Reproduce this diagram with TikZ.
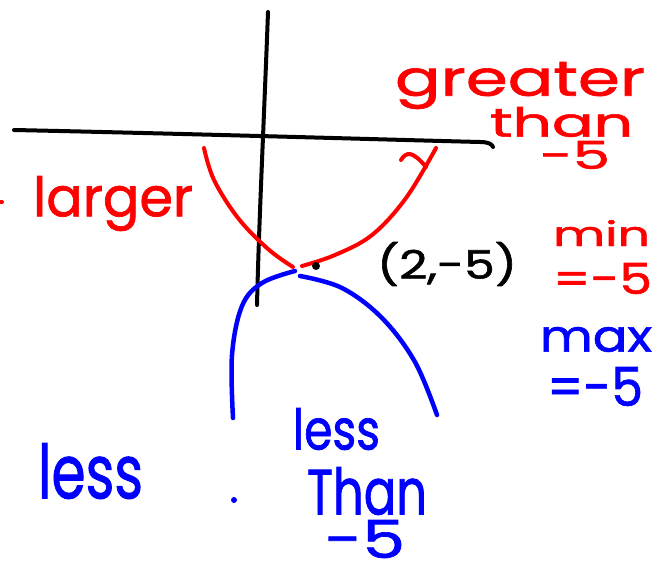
\documentclass[tikz,border=0pt]{standalone}
\usepackage{fontspec}
\usepackage{graphicx}
\setmainfont{Poppins}
\newfontfamily\handfont{Poppins}[FakeBold=1.3]
\definecolor{inkred}{RGB}{255,0,0}
\definecolor{inkblue}{RGB}{0,0,255}
\newcommand{\hw}[3]{\resizebox*{#1pt}{#2pt}{\handfont #3}}
\begin{document}
\begin{tikzpicture}[x=1pt,y=-1pt,
  pen/.style={line width=#1, line cap=round, line join=round},
  lbl/.style={anchor=north west, inner sep=0pt, outer sep=0pt}]
\useasboundingbox[fill=white] (0,0) rectangle (658,569);
% axes
\draw[pen=4pt,black] (268,12) .. controls (264,120) and (259,220) .. (257,305);
\draw[pen=4pt,black] (14,130) .. controls (200,134) and (400,140) .. (480,142) .. controls (488,142) and (492,144) .. (493,147);
% red parabola
\draw[pen=4pt,inkred] plot[smooth,tension=0.6] coordinates {(204,148) (214,180) (238,218) (268,249) (293,267)};
\draw[pen=4pt,inkred] plot[smooth,tension=0.6] coordinates {(302,266) (335,255) (372,235) (406,198) (436,148)};
\draw[pen=4pt,inkred] (401,160) .. controls (406,152) and (412,150) .. (426,167);
\draw[pen=4pt,inkred] (0,202) -- (2,202);
% blue parabola
\draw[pen=4.5pt,inkblue] plot[smooth,tension=0.6] coordinates {(233,418) (232,355) (242,306) (262,283) (295,271)};
\draw[pen=4.5pt,inkblue] plot[smooth,tension=0.6] coordinates {(300,276) (342,288) (382,318) (415,362) (437,415)};
% dots
\fill[black] (316,266) circle (4pt);
\fill[inkblue] (234,500) circle (3pt);
% labels
\node[lbl,text=inkred] (larger) at (33,176) {\hw{160}{55}{larger}};
\node[lbl,text=inkred] (greater) at (395,62) {\hw{250}{47}{greater}};
\node[lbl,text=inkred] (than1) at (490,107) {\hw{143}{30}{than}};
\node[lbl,text=inkred] (m5a) at (540,141) {\hw{70}{28}{-5}};
\node[lbl,text=inkred] (min) at (553,220) {\hw{97}{26}{min}};
\node[lbl,text=inkred] (eqa) at (553,263) {\hw{99}{31}{=-5}};
\node[lbl,text=black] (pt) at (377,242) {\hw{140}{44}{(2,-5)}};
\node[lbl,text=inkblue] (max) at (540,327) {\hw{112}{25}{max}};
\node[lbl,text=inkblue] (eqb) at (547,367) {\hw{96}{39}{=-5}};
\node[lbl,text=inkblue] (less1) at (38,443) {\hw{105}{56}{less}};
\node[lbl,text=inkblue] (less2) at (293,408) {\hw{87}{42}{less}};
\node[lbl,text=inkblue] (than2) at (307,467) {\hw{120}{48}{Than}};
\node[lbl,text=inkblue] (m5b) at (325,520) {\hw{80}{38}{-5}};
\end{tikzpicture}
\end{document}
